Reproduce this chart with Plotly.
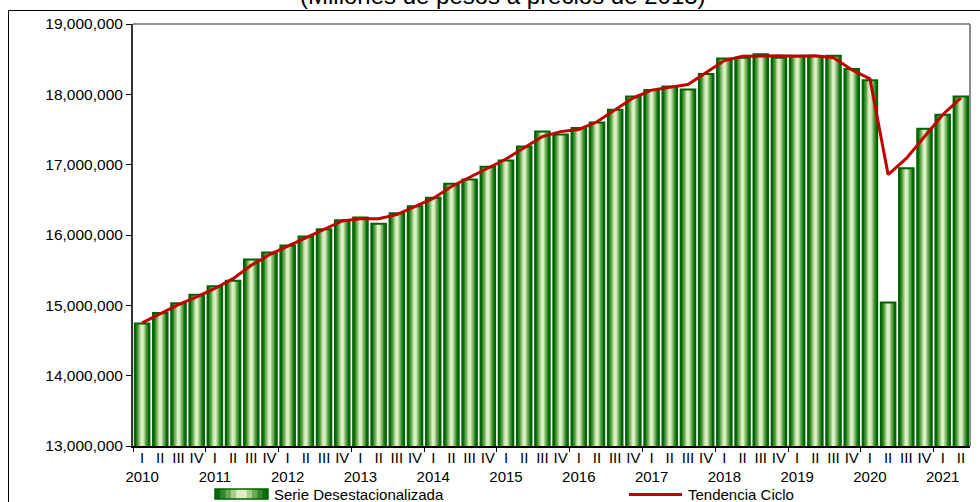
import plotly.graph_objects as go

# ---------------- data ----------------
years = [2010, 2011, 2012, 2013, 2014, 2015, 2016, 2017, 2018, 2019, 2020, 2021]
quarters = ["I", "II", "III", "IV"]

serie_desest = [
    14740000, 14890000, 15030000, 15150000,
    15270000, 15350000, 15650000, 15750000,
    15850000, 15980000, 16080000, 16210000,
    16250000, 16160000, 16310000, 16410000,
    16530000, 16730000, 16790000, 16970000,
    17060000, 17260000, 17470000, 17430000,
    17520000, 17600000, 17780000, 17970000,
    18060000, 18110000, 18070000, 18290000,
    18510000, 18520000, 18570000, 18520000,
    18550000, 18540000, 18550000, 18360000,
    18200000, 15040000, 16950000, 17510000,
    17710000, 17970000,
]

tendencia_ciclo = [
    14750000, 14880000, 15010000, 15120000,
    15240000, 15380000, 15570000, 15720000,
    15840000, 15960000, 16080000, 16200000,
    16230000, 16230000, 16290000, 16400000,
    16520000, 16690000, 16820000, 16950000,
    17080000, 17240000, 17400000, 17470000,
    17500000, 17610000, 17780000, 17950000,
    18060000, 18100000, 18140000, 18310000,
    18480000, 18540000, 18550000, 18550000,
    18540000, 18550000, 18520000, 18350000,
    18220000, 16860000, 17090000, 17400000,
    17710000, 17950000,
]

y_ticks = [13000000, 14000000, 15000000, 16000000, 17000000, 18000000, 19000000]

# ---------------- build ----------------
n = len(serie_desest)
xs = list(range(n))
tick_text = []
for i in range(n):
    q = quarters[i % 4]
    if i % 4 == 0:
        tick_text.append(f"{q}<br>{years[i // 4]}")
    else:
        tick_text.append(q)

FONT = "Liberation Sans, Arial, sans-serif"
DARK = "#006400"

fig = go.Figure()

# gradient layers (outer -> inner)
layers = [
    (0.80, "#0b6a0b"),
    (0.64, "#2f8a2a"),
    (0.48, "#6aaa55"),
    (0.32, "#a8cf8c"),
    (0.17, "#dcefc4"),
]
for w, c in layers:
    fig.add_trace(go.Bar(
        x=xs, y=serie_desest, width=w, marker_color=c,
        marker_line_width=0, showlegend=False, hoverinfo="skip",
    ))
# border
fig.add_trace(go.Bar(
    x=xs, y=serie_desest, width=0.80, marker_color="rgba(0,0,0,0)",
    marker_line_color=DARK, marker_line_width=2,
    name="Serie Desestacionalizada", showlegend=False,
))

fig.add_trace(go.Scatter(
    x=xs, y=tendencia_ciclo, mode="lines",
    line=dict(color="#c00000", width=3),
    name="Tendencia Ciclo", showlegend=False,
))

# invisible trace for year-boundary ticks
fig.add_trace(go.Scatter(x=[-0.5, n - 0.5], y=[None, None], xaxis="x2",
                         showlegend=False, hoverinfo="skip"))

L, R, T, B = 133, 10, 24, 56
W, H = 980, 502
pw, ph = W - L - R, H - T - B


def px(x):
    return (x - L) / pw


def py(y):
    return (H - B - y) / ph


fig.update_layout(
    width=W, height=H,
    margin=dict(l=L, r=R, t=T, b=B, autoexpand=False),
    paper_bgcolor="white", plot_bgcolor="white",
    barmode="overlay",
    font=dict(family=FONT, size=15, color="#000000"),
    xaxis=dict(
        range=[-0.5, n - 0.5],
        tickmode="array", tickvals=xs, ticktext=tick_text,
        ticks="", showgrid=False, zeroline=False,
        showline=True, linecolor="#000000", linewidth=1.5,
        tickfont=dict(family=FONT, size=15, color="#000000"),
        tickangle=0, ticklabelstandoff=-3,
    ),
    xaxis2=dict(
        overlaying="x", side="bottom", range=[-0.5, n - 0.5],
        tickmode="array", tickvals=[i - 0.5 for i in range(0, n + 1, 4)],
        ticks="outside", ticklen=5, tickcolor="#000000", tickwidth=1,
        showticklabels=False, showgrid=False, zeroline=False, showline=False,
    ),
    yaxis=dict(
        range=[13000000, 19000000],
        tickmode="array", tickvals=y_ticks,
        tickformat=",d",
        ticks="outside", ticklen=5, tickcolor="#000000", tickwidth=1,
        showgrid=False, zeroline=False,
        showline=True, linecolor="#333333", linewidth=2,
        tickfont=dict(family=FONT, size=15.5, color="#000000"),
    ),
)

shapes = []
# gray top & right frame
shapes.append(dict(type="line", xref="paper", yref="paper", x0=0, x1=1, y0=1, y1=1,
                   line=dict(color="#8c8c8c", width=2)))
shapes.append(dict(type="line", xref="paper", yref="paper", x0=1, x1=1, y0=0, y1=1,
                   line=dict(color="#8c8c8c", width=2)))
# outer black border (extends beyond page right/bottom)
shapes.append(dict(type="rect", xref="paper", yref="paper",
                   x0=px(8.5), x1=px(995), y0=py(10.5), y1=py(520),
                   line=dict(color="#000000", width=1), fillcolor="rgba(0,0,0,0)",
                   layer="below"))
# legend bar swatch (horizontal gradient)
sx0, sx1, sy0, sy1 = 215, 268, 489, 499
sw = sx1 - sx0
grad = [(1.0, "#0b6a0b"), (0.8, "#2f8a2a"), (0.6, "#6aaa55"), (0.4, "#a8cf8c"), (0.2, "#dcefc4")]
cx = (sx0 + sx1) / 2
for f, c in grad:
    hw = sw * f / 2
    shapes.append(dict(type="rect", xref="paper", yref="paper",
                       x0=px(cx - hw), x1=px(cx + hw), y0=py(sy1), y1=py(sy0),
                       line=dict(width=0), fillcolor=c))
shapes.append(dict(type="rect", xref="paper", yref="paper",
                   x0=px(sx0), x1=px(sx1), y0=py(sy1), y1=py(sy0),
                   line=dict(color=DARK, width=1.5), fillcolor="rgba(0,0,0,0)"))
# legend line swatch
shapes.append(dict(type="line", xref="paper", yref="paper",
                   x0=px(629), x1=px(682), y0=py(494.5), y1=py(494.5),
                   line=dict(color="#c00000", width=3)))
fig.update_layout(shapes=shapes)

annotations = [
    dict(text="(Millones de pesos a precios de 2013)", xref="paper", yref="paper",
         x=px(502.5), y=py(11), xanchor="center", yanchor="bottom", showarrow=False,
         font=dict(family=FONT, size=24, color="#000000")),
    dict(text="Serie Desestacionalizada", xref="paper", yref="paper",
         x=px(272), y=py(495), xanchor="left", yanchor="middle", showarrow=False,
         font=dict(family=FONT, size=15, color="#000000")),
    dict(text="Tendencia Ciclo", xref="paper", yref="paper",
         x=px(686), y=py(495), xanchor="left", yanchor="middle", showarrow=False,
         font=dict(family=FONT, size=15, color="#000000")),
]
fig.update_layout(annotations=annotations)

fig.write_html(
    "out.html",
    config={"displayModeBar": False},
    post_script="document.body.style.margin='0';document.body.style.overflow='hidden';",
)
